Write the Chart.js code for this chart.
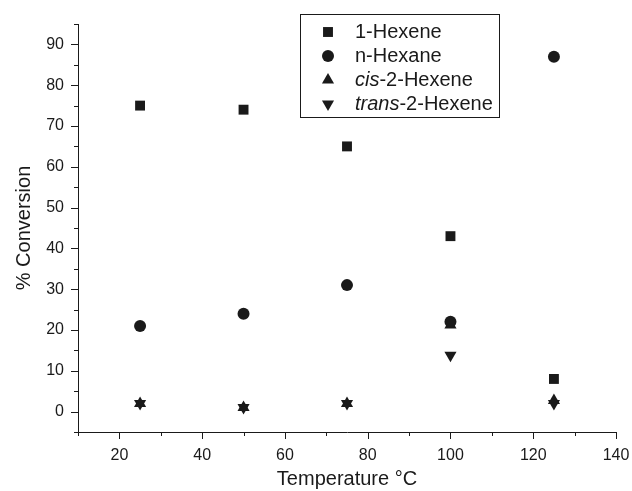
<!DOCTYPE html>
<html>
<head>
<meta charset="utf-8">
<script src="https://cdn.jsdelivr.net/npm/chart.js@4/dist/chart.umd.min.js"></script>
<style>
  html, body { margin: 0; padding: 0; background: #fff; }
  #wrap { width: 632px; height: 491px; position: relative; }
</style>
</head>
<body>
<div id="wrap"><canvas id="chart"></canvas></div>
<script>
// values
var temperatures = [25, 50, 75, 100, 125];
var hexene1 = [75, 74, 65, 43, 8];
var hexane = [21, 24, 31, 22, 87];
var cisHexene2 = [2, 1, 2, 21.2, 2.7];
var transHexene2 = [2, 1, 2, 13.8, 2];

var xTickLabels = [20, 40, 60, 80, 100, 120, 140];
var yTickLabels = [0, 10, 20, 30, 40, 50, 60, 70, 80, 90];

var FONT = '"Liberation Sans", Arial, sans-serif', INK = '#1a1a1a';

function pairs(ys){
	var i, out = [];
	for(i = 0; i < temperatures.length; i++){
		out.push({x: temperatures[i], y: ys[i]});
	}
	return out;
}

function makeSet(label, ys, style, radius, rotation){
	return {
		label: label, data: pairs(ys), showLine: false,
		pointStyle: style, pointRadius: radius, pointHoverRadius: radius,
		pointRotation: rotation || 0,
		backgroundColor: INK, borderColor: INK, pointBorderWidth: 0
	};
}

var legendItems = [
	{it: '', post: '1-Hexene', style: 'rect', r: 7, rot: 0},
	{it: '', post: 'n-Hexane', style: 'circle', r: 6, rot: 0},
	{it: 'cis', post: '-2-Hexene', style: 'triangle', r: 7, rot: 0},
	{it: 'trans', post: '-2-Hexene', style: 'triangle', r: 7, rot: 180}
];

/*ticks mayores y menores dibujados hacia fuera*/
var axisTicks = {
	id: 'axisTicks',
	afterDraw: function(chart){
		var ctx = chart.ctx, xs = chart.scales.x, ys = chart.scales.y, v, p, len;
		ctx.save();
		ctx.strokeStyle = INK;
		ctx.lineWidth = 1;
		ctx.beginPath();
		for(v = ys.min; v <= ys.max; v += 5){
			p = Math.round(ys.getPixelForValue(v)) + 0.5;
			len = (v % 10 === 0) ? 7 : 4;
			ctx.moveTo(xs.left - len, p);
			ctx.lineTo(xs.left, p);
		}
		for(v = xs.min; v <= xs.max; v += 10){
			p = Math.round(xs.getPixelForValue(v)) + 0.5;
			len = (v % 20 === 0) ? 7 : 4;
			ctx.moveTo(p, ys.bottom);
			ctx.lineTo(p, ys.bottom + len);
		}
		ctx.stroke();
		ctx.restore();
	}
};

/*leyenda con recuadro y texto en cursiva*/
var boxLegend = {
	id: 'boxLegend',
	afterDraw: function(chart){
		var ctx = chart.ctx, i, item, y, x, bx = 300, by = 14, bw = 199, bh = 103;
		ctx.save();
		ctx.strokeStyle = INK;
		ctx.lineWidth = 1;
		ctx.strokeRect(bx + 0.5, by + 0.5, bw, bh);
		ctx.fillStyle = INK;
		ctx.textBaseline = 'middle';
		for(i = 0; i < legendItems.length; i++){
			item = legendItems[i];
			y = 32 + i * 24;
			Chart.helpers.drawPoint(ctx, {pointStyle: item.style, radius: item.r, rotation: item.rot, borderWidth: 0}, 328, y);
			x = 355;
			if(item.it){
				ctx.font = 'italic 20px ' + FONT;
				ctx.fillText(item.it, x, y);
				x += ctx.measureText(item.it).width;
			}
			ctx.font = '20px ' + FONT;
			ctx.fillText(item.post, x, y);
		}
		ctx.restore();
	}
};

// ticks reales invisibles: reservan espacio sin inflar el padding lateral
var hiddenGrid = {drawOnChartArea: false, drawTicks: true, tickLength: 12, tickColor: 'rgba(0,0,0,0)'};

new Chart(document.getElementById('chart'), {
	type: 'scatter',
	data: {
		datasets: [
			makeSet('1-Hexene', hexene1, 'rect', 7),
			makeSet('n-Hexane', hexane, 'circle', 6),
			makeSet('cis-2-Hexene', cisHexene2, 'triangle', 7),
			makeSet('trans-2-Hexene', transHexene2, 'triangle', 7, 180)
		]
	},
	options: {
		responsive: true,
		maintainAspectRatio: false,
		animation: false,
		layout: {padding: {left: 0, top: 24, right: 16, bottom: 0}},
		plugins: {legend: {display: false}, tooltip: {enabled: false}},
		scales: {
			x: {
				type: 'linear', min: 10, max: 140,
				afterBuildTicks: function(s){ s.ticks = xTickLabels.map(function(v){ return {value: v}; }); },
				afterFit: function(s){ s.height = 59; },
				grid: hiddenGrid,
				border: {color: INK, width: 1},
				ticks: {color: INK, font: {family: FONT, size: 16}, padding: 2, maxRotation: 0},
				title: {display: true, text: 'Temperature °C', color: INK, font: {family: FONT, size: 20}, padding: {top: 0, bottom: 0}}
			},
			y: {
				type: 'linear', min: -5, max: 95,
				afterBuildTicks: function(s){ s.ticks = yTickLabels.map(function(v){ return {value: v}; }); },
				afterFit: function(s){ s.width = 78; },
				grid: hiddenGrid,
				border: {color: INK, width: 1},
				ticks: {color: INK, font: {family: FONT, size: 16}, padding: 2},
				title: {display: true, text: '% Conversion', color: INK, font: {family: FONT, size: 20}, padding: {top: 12, bottom: 0}}
			}
		}
	},
	plugins: [axisTicks, boxLegend]
});
</script>
</body>
</html>
